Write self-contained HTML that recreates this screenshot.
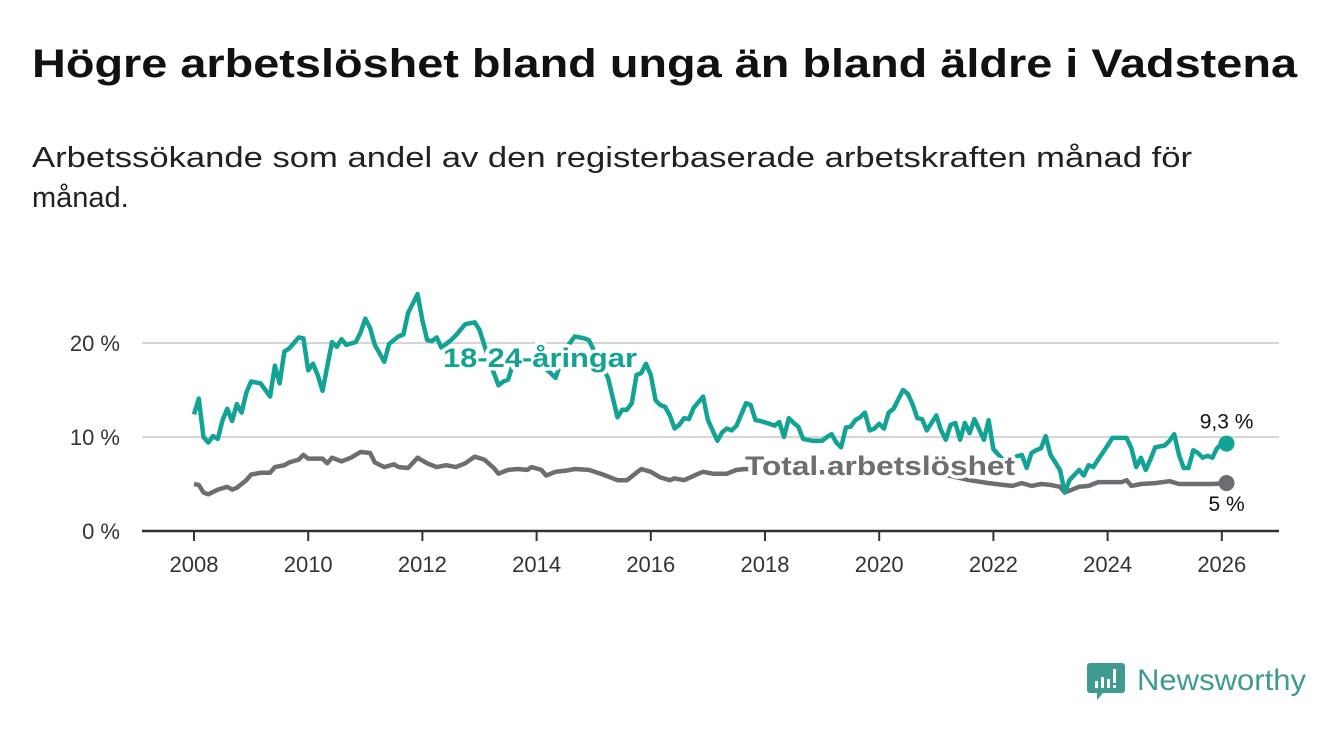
<!DOCTYPE html>
<html><head><meta charset="utf-8"><style>
html,body{margin:0;padding:0;background:#fff;}
body{width:1340px;height:734px;overflow:hidden;font-family:"Liberation Sans",sans-serif;}
</style></head><body>
<svg id="chart" width="1340" height="734" xmlns="http://www.w3.org/2000/svg" font-family="Liberation Sans, sans-serif">
<text x="32" y="77" font-size="40" font-weight="bold" fill="#111" textLength="1265" lengthAdjust="spacingAndGlyphs">Högre arbetslöshet bland unga än bland äldre i Vadstena</text>
<text x="32" y="167" font-size="29" fill="#222" textLength="1160" lengthAdjust="spacingAndGlyphs">Arbetssökande som andel av den registerbaserade arbetskraften månad för</text>
<text x="32" y="207" font-size="29" fill="#222">månad.</text>
<g id="grid"></g>
<g id="yticks"></g>
<g id="xticks"></g>
<g id="lines"></g>
<g id="labels"></g>
<g>
<path d="M1090 663 h32 a3 3 0 0 1 3 3 v24 a3 3 0 0 1 -3 3 h-19 l-6 7 v-7 h-7 a3 3 0 0 1 -3 -3 v-24 a3 3 0 0 1 3 -3z" fill="#3f9a92"/>
<rect x="1095" y="681" width="3" height="7" fill="#fff"/><rect x="1101" y="677" width="3" height="11" fill="#fff"/><rect x="1107" y="679" width="3" height="9" fill="#fff"/><rect x="1113" y="669" width="3" height="14" fill="#fff"/><rect x="1113" y="685" width="3" height="3" fill="#fff"/>
<text x="1137" y="690" font-size="30" fill="#3f9a92" textLength="169" lengthAdjust="spacingAndGlyphs">Newsworthy</text>
</g>
</svg>
<script>
const youthMonths=[0,1,2,3,4,5,6,7,8,9,10,11,12,14,15,16,17,18,19,20,22,23,24,25,26,27,29,30,31,32,34,35,36,37,38,40,41,43,44,45,47,48,49,50,51,52,54,55,57,59,60,62,64,65,66,67,70,73,76,78,80,82,83,85,87,89,90,91,92,93,94,95,96,97,98,99,100,101,102,103,104,105,107,108,110,111,112,113,114,116,117,118,119,121,122,123,124,125,126,127,128,130,132,133,134,135,136,137,138,139,140,141,142,143,144,145,146,147,149,150,151,152,153,154,156,157,158,159,160,161,162,163,164,166,167,168,170,172,174,175,176,177,178,179,180,181,182,183,184,186,187,188,189,190,192,193,195,196,197,198,199,200,201,202,204,205,206,207,208,209,210,211,212,213,214,215,216,217];
const youthValues=[12.4,14.1,10.0,9.4,10.1,9.8,11.8,13.0,11.7,13.5,12.6,14.7,15.9,15.7,15.0,14.3,17.6,15.7,19.1,19.4,20.6,20.5,17.1,17.8,16.6,14.9,20.1,19.6,20.4,19.8,20.1,21.1,22.6,21.6,19.8,18.0,19.9,20.7,20.9,23.2,25.2,22.4,20.3,20.2,20.6,19.5,20.3,20.8,22.0,22.2,21.4,18.2,15.5,15.9,16.1,17.7,18.2,17.7,16.3,19.3,20.7,20.5,20.3,18.2,16.3,12.1,12.9,12.9,13.6,16.6,16.8,17.8,16.6,13.9,13.4,13.2,12.3,10.9,11.3,12.0,11.9,13.1,14.3,11.8,9.6,10.5,10.9,10.7,11.2,13.6,13.4,11.8,11.7,11.4,11.2,11.6,10.0,12.0,11.5,11.1,9.8,9.6,9.6,10.0,10.3,9.4,8.9,11.0,11.1,11.8,12.1,12.6,10.7,10.9,11.4,10.9,12.6,13.0,15.0,14.6,13.5,12.0,11.9,10.7,12.3,10.7,9.7,11.3,11.5,9.7,11.5,10.4,11.9,9.7,11.8,8.7,7.6,7.8,8.1,6.7,8.3,8.6,8.8,10.1,8.1,7.3,6.5,4.1,5.4,6.5,5.9,7.0,6.8,7.6,9.1,9.9,9.9,9.9,8.8,6.8,7.8,6.5,7.6,8.9,9.1,9.6,10.3,8.1,6.7,6.7,8.6,8.3,7.8,8.0,7.8,8.8,9.3,9.3];
const totalMonths=[0,1,2,3,5,7,8,9,11,12,14,16,17,19,20,22,23,24,27,28,29,31,33,35,37,38,40,42,43,45,47,49,51,53,55,57,59,61,63,64,66,68,70,71,73,74,76,78,80,83,86,89,91,93,94,96,98,100,101,103,106,107,109,112,114,116,125,138,148,155,163,167,170,172,174,176,178,180,182,183,185,186,188,190,193,195,196,197,199,202,205,207,210,214,217];
const totalValues=[5.0,4.9,4.1,3.9,4.4,4.7,4.4,4.6,5.4,6.0,6.2,6.2,6.8,7.0,7.3,7.6,8.1,7.7,7.7,7.2,7.8,7.4,7.8,8.4,8.3,7.3,6.8,7.1,6.8,6.7,7.8,7.2,6.8,7.0,6.8,7.2,7.9,7.6,6.7,6.1,6.5,6.6,6.5,6.8,6.5,5.9,6.3,6.4,6.6,6.5,6.0,5.4,5.4,6.2,6.6,6.3,5.7,5.4,5.6,5.4,6.1,6.3,6.1,6.1,6.5,6.6,6.2,6.3,6.9,6.3,5.4,5.1,4.9,4.8,5.1,4.8,5.0,4.9,4.7,4.1,4.5,4.7,4.8,5.2,5.2,5.2,5.4,4.8,5.0,5.1,5.3,5.0,5.0,5.0,5.1];
const yTicks=[0,10,20];
const yTickLabels=["0 %","10 %","20 %"];
const xTicks=[2008,2010,2012,2014,2016,2018,2020,2022,2024,2026];
const youthEndLabel="9,3 %";
const totalEndLabel="5 %";

const NS="http://www.w3.org/2000/svg";
const xYear=y=>194+(y-2008)*57.1;
const xMonth=m=>194+m*57.1/12;
const yVal=v=>531-v*9.4;
function mk(tag,attrs,parent){const e=document.createElementNS(NS,tag);for(const k in attrs)e.setAttribute(k,attrs[k]);parent.appendChild(e);return e;}
const grid=document.getElementById('grid'),yt=document.getElementById('yticks'),xt=document.getElementById('xticks'),lines=document.getElementById('lines'),labels=document.getElementById('labels');
yTicks.forEach((v,i)=>{
  if(v>0){const g=mk('line',{x1:142,x2:1279,y1:yVal(v),y2:yVal(v),stroke:'#d6d6d6','stroke-width':2},grid);
  
  }
  const t=mk('text',{x:120,y:yVal(v)+8,'font-size':22,fill:'#333','text-anchor':'end'},yt);
  t.textContent=yTickLabels[i];
  
  
});
const ax=mk('line',{x1:142,x2:1279,y1:531,y2:531,stroke:'#333','stroke-width':2.5},xt);


xTicks.forEach(y=>{
  const tk=mk('line',{x1:xYear(y),x2:xYear(y),y1:531,y2:541,stroke:'#333','stroke-width':2},xt);
  
  
  const t=mk('text',{x:xYear(y),y:572,'font-size':22,fill:'#333','text-anchor':'middle'},xt);
  t.textContent=y;
  
  
});
function path(ms,vs){return ms.map((m,i)=>(i?'L':'M')+xMonth(m).toFixed(1)+' '+yVal(vs[i]).toFixed(1)).join(' ');}
const pt=mk('path',{d:path(totalMonths,totalValues),fill:'none',stroke:'#6e6d71','stroke-width':4.5,'stroke-linejoin':'round'},lines);


const py=mk('path',{d:path(youthMonths,youthValues),fill:'none',stroke:'#12a395','stroke-width':4.5,'stroke-linejoin':'round'},lines);


const lt=totalMonths.length-1,ly=youthMonths.length-1;
const dt=mk('circle',{cx:xMonth(totalMonths[lt]),cy:yVal(totalValues[lt]),r:8,fill:'#6e6d71'},lines);


const dy=mk('circle',{cx:xMonth(youthMonths[ly]),cy:yVal(youthValues[ly]),r:8,fill:'#12a395'},lines);


const l1=mk('text',{x:443,y:367,'font-size':27,'font-weight':'bold',fill:'#12a395',stroke:'#fff','stroke-width':7,'paint-order':'stroke','stroke-linejoin':'round',textLength:194,lengthAdjust:'spacingAndGlyphs'},labels);
l1.textContent='18-24-åringar';


const l2=mk('text',{x:745,y:475,'font-size':27,'font-weight':'bold',fill:'#6e6d71',stroke:'#fff','stroke-width':7,'paint-order':'stroke','stroke-linejoin':'round',textLength:270,lengthAdjust:'spacingAndGlyphs'},labels);
l2.textContent='Total arbetslöshet';


const e1=mk('text',{x:xMonth(youthMonths[ly]),y:yVal(youthValues[ly])-15,'font-size':21,fill:'#111','text-anchor':'middle'},labels);
e1.textContent=youthEndLabel;


const e2=mk('text',{x:xMonth(totalMonths[lt]),y:yVal(totalValues[lt])+28,'font-size':21,fill:'#111','text-anchor':'middle'},labels);
e2.textContent=totalEndLabel;


</script>
</body></html>
